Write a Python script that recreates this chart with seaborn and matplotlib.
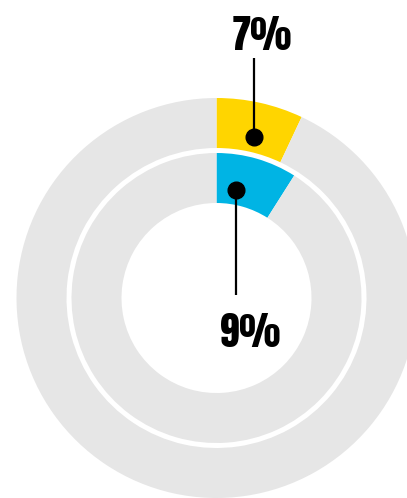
import matplotlib
matplotlib.use("Agg")

import matplotlib.pyplot as plt
import numpy as np
import seaborn as sns

# share of each ring (percent)
rings = ["outer", "inner"]
shares = [7, 9]
labels = ["7%", "9%"]
ring_colors = ["#FFD500", "#00B4E4"]
rest_color = "#E6E6E6"

sns.set_theme(style="white")
plt.rcParams['font.family'] = ['Anton', 'Oswald', 'Saira ExtraCondensed', 'DejaVu Sans']

fig = plt.figure(figsize=(4.07, 4.98), dpi=100)
ax = fig.add_axes([0, 0, 1, 1])

# geometry in pixel units (y up)
cx, cy = 216.5, 200
radii = [200, 145]
width = 50

for r, share, col in zip(radii, shares, ring_colors):
    ax.pie([share, 100 - share], colors=[col, rest_color], startangle=90,
           counterclock=False, center=(cx, cy), radius=r,
           wedgeprops=dict(width=width, linewidth=0))

# label markers: (radius, angle from 12 o'clock in degrees)
dot_pos = [(165, 13.1), (110, 10.2)]
text_y = [448, 151]
text_x = [262, 250]
line_end = [440, 203]

for (r, a), lab, tx, ty, le in zip(dot_pos, labels, text_x, text_y, line_end):
    dx = cx + r * np.sin(np.radians(a))
    dy = cy + r * np.cos(np.radians(a))
    ax.plot([dx, dx], [dy, le], color="black", lw=1.6, solid_capstyle="butt")
    ax.plot(dx, dy, "o", color="black", markersize=12)
    ax.text(tx, ty, lab, ha="center", va="baseline", fontsize=28,
            fontweight="bold", color="black")

ax.set_xlim(0, 407)
ax.set_ylim(0, 498)
ax.set_aspect("equal")
ax.axis("off")

plt.savefig("out.png", dpi=100)
